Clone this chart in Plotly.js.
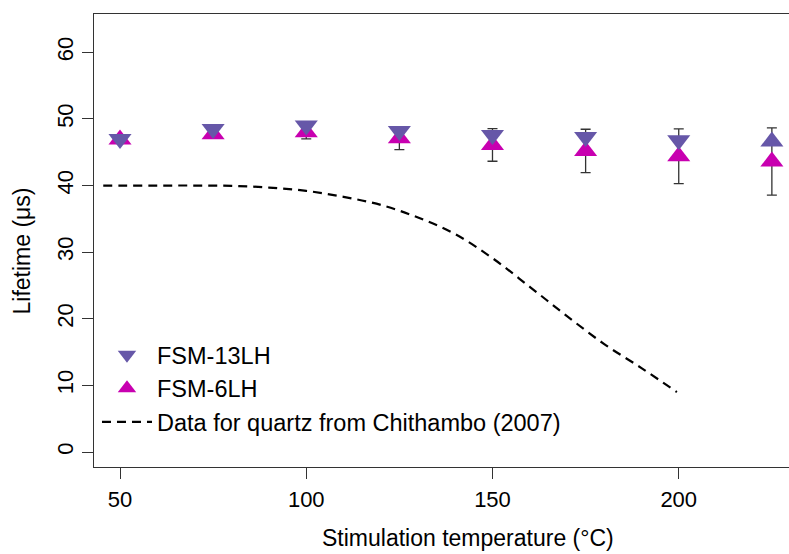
<!DOCTYPE html>
<html>
<head>
<meta charset="utf-8">
<script src="https://cdn.plot.ly/plotly-3.0.1.min.js"></script>
<style>html,body{margin:0;padding:0;background:#fff;overflow:hidden}</style>
</head>
<body>
<div id="chart" style="width:789px;height:554px"></div>
<script>
// Temperatures (°C)
var temps = [50, 75, 100, 125, 150, 175, 200, 225];
// FSM-13LH lifetimes (µs)
var fsm13 = [47.0, 48.5, 49.0, 48.2, 47.6, 47.3, 46.8, 46.6];
var fsm13Symbols = ['triangle-down','triangle-down','triangle-down','triangle-down','triangle-down','triangle-down','triangle-down','triangle-up'];
// FSM-6LH lifetimes (µs) and errors
var fsm6 = [46.9, 47.7, 48.0, 47.1, 46.1, 45.2, 44.4, 43.6];
var fsm6Err = [0.4, 0.5, 1.0, 1.7, 2.45, 3.25, 4.1, 5.05];
// Chithambo (2007) quartz curve
var quartzT = [45.5, 50, 60, 70, 80, 90, 100, 110, 120, 130, 140, 150, 160, 170, 180, 190, 199.5];
var quartzL = [40.0, 40.0, 40.0, 40.0, 39.95, 39.7, 39.2, 38.3, 37.1, 35.2, 32.7, 29.1, 24.8, 20.4, 16.2, 12.6, 9.0];

var xTicks = [50, 100, 150, 200];
var yTicks = [0, 10, 20, 30, 40, 50, 60];

var FONT = 'Liberation Sans, Arial, Helvetica, sans-serif';

var traces = [
  {
    x: quartzT, y: quartzL, mode: 'lines', name: 'Data for quartz from Chithambo (2007)',
    line: {color: '#000', width: 2.2, dash: '9px,6px', shape: 'spline', smoothing: 1}, legendrank: 3
  },
  {
    x: temps, y: fsm6, mode: 'markers', name: 'FSM-6LH',
    marker: {symbol: 'triangle-up', size: 20, color: '#c800b0', line: {width: 0}},
    error_y: {type: 'data', array: fsm6Err, visible: true, color: '#333', thickness: 1.3, width: 5},
    legendrank: 2
  },
  {
    x: temps, y: fsm13, mode: 'markers', name: 'FSM-13LH',
    marker: {symbol: fsm13Symbols, size: 20, color: '#6657a8', line: {width: 0}},
    legendrank: 1
  }
];

var layout = {
  width: 789, height: 554,
  margin: {l: 94, r: 0, t: 14, b: 87},
  paper_bgcolor: '#fff', plot_bgcolor: '#fff',
  font: {family: FONT, color: '#000', size: 22},
  showlegend: true,
  legend: {
    x: 0.0043, y: 0.296, xanchor: 'left', yanchor: 'top',
    bgcolor: 'rgba(0,0,0,0)', font: {size: 23.5, family: FONT},
    tracegroupgap: 0, itemwidth: 50
  },
  xaxis: {
    range: [43.02, 229.6], tickvals: xTicks, ticktext: xTicks.map(String),
    ticks: 'outside', ticklen: 11, tickwidth: 1, tickcolor: '#333',
    showline: true, linecolor: '#333', linewidth: 1.3, mirror: true,
    showgrid: false, zeroline: false, tickfont: {size: 22}, ticklabelstandoff: 1
  },
  yaxis: {
    range: [-2.25, 65.75], tickvals: yTicks, ticktext: yTicks.map(String),
    ticks: 'outside', ticklen: 11, tickwidth: 1, tickcolor: '#333',
    showline: true, linecolor: '#333', linewidth: 1.3, mirror: false,
    showgrid: false, zeroline: false, tickfont: {size: 22}, tickangle: -90
  },
  annotations: [
    {text: 'Stimulation temperature (°C)', xref: 'paper', yref: 'paper',
     x: 0.538, y: -0.157, xanchor: 'center', yanchor: 'middle', showarrow: false,
     font: {size: 23, family: FONT}},
    {text: 'Lifetime (μs)', xref: 'paper', yref: 'paper', textangle: -90,
     x: -0.1036, y: 0.478, xanchor: 'center', yanchor: 'middle', showarrow: false,
     font: {size: 23, family: FONT}}
  ]
};

Plotly.newPlot('chart', traces, layout, {displayModeBar: false, staticPlot: true});
</script>
</body>
</html>
